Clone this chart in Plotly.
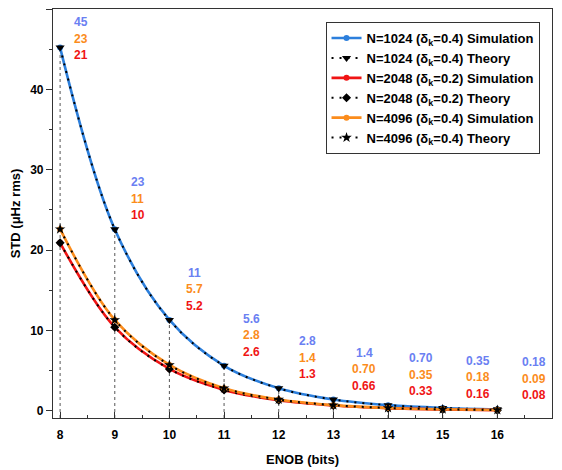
import plotly.graph_objects as go

enob = [8, 9, 10, 11, 12, 13, 14, 15, 16]

std_1024_sim = [45.2, 22.6, 11.3, 5.6, 2.8, 1.4, 0.70, 0.35, 0.18]
std_1024_th = [45.2, 22.6, 11.3, 5.6, 2.8, 1.4, 0.70, 0.35, 0.18]
std_2048_sim = [20.9, 10.4, 5.2, 2.6, 1.3, 0.66, 0.33, 0.16, 0.08]
std_2048_th = [20.9, 10.4, 5.2, 2.6, 1.3, 0.66, 0.33, 0.16, 0.08]
std_4096_sim = [22.6, 11.3, 5.7, 2.8, 1.4, 0.70, 0.35, 0.18, 0.09]
std_4096_th = [22.6, 11.3, 5.7, 2.8, 1.4, 0.70, 0.35, 0.18, 0.09]

labels_1024 = ["45", "23", "11", "5.6", "2.8", "1.4", "0.70", "0.35", "0.18"]
labels_4096 = ["23", "11", "5.7", "2.8", "1.4", "0.70", "0.35", "0.18", "0.09"]
labels_2048 = ["21", "10", "5.2", "2.6", "1.3", "0.66", "0.33", "0.16", "0.08"]

x_ticks = [8, 9, 10, 11, 12, 13, 14, 15, 16]
y_ticks = [0, 10, 20, 30, 40, 50]

BLUE = "#2c7fdc"
RED = "#f01414"
ORANGE = "#fb8c1c"
BLUE_TXT = "#6a80f2"
ORANGE_TXT = "#fb8c1c"
RED_TXT = "#f01414"

Y0, Y1 = -0.9, 50
X0, X1 = 7.87, 17.0
# page body has an 8px margin, so the figure is offset by 8px
M_L, M_R, M_T, M_B = 45, 10, 1, 52
W, H = 554, 462
plot_h = H - M_T - M_B

FONT = "Liberation Sans, Arial, sans-serif"

fig = go.Figure()

# vertical dotted drop lines
dx, dy = [], []
for xv, yv in zip(enob, std_1024_sim):
    dx += [xv, xv, None]
    dy += [Y0, yv, None]
fig.add_trace(go.Scatter(x=dx, y=dy, mode="lines", showlegend=False, hoverinfo="skip",
                         line=dict(color="#666666", width=1.1, dash="dot")))

series = [
    ("N=1024 (δ<sub>k</sub>=0.4) Simulation", std_1024_sim, BLUE, "sim", None),
    ("N=1024 (δ<sub>k</sub>=0.4) Theory", std_1024_th, "black", "th", "triangle-down"),
    ("N=2048 (δ<sub>k</sub>=0.2) Simulation", std_2048_sim, RED, "sim", None),
    ("N=2048 (δ<sub>k</sub>=0.2) Theory", std_2048_th, "black", "th", "diamond"),
    ("N=4096 (δ<sub>k</sub>=0.4) Simulation", std_4096_sim, ORANGE, "sim", None),
    ("N=4096 (δ<sub>k</sub>=0.4) Theory", std_4096_th, "black", "th", "star"),
]
msize = {"triangle-down": 8, "diamond": 7, "star": 8}
for name, ys, col, kind, sym in series:
    if kind == "sim":
        fig.add_trace(go.Scatter(x=enob, y=ys, name=f"<b>{name}</b>", mode="lines+markers",
                                 line=dict(color=col, width=2.6, shape="spline"),
                                 marker=dict(symbol="circle", size=6, color=col)))
    else:
        fig.add_trace(go.Scatter(x=enob, y=ys, name=f"<b>{name}</b>", mode="lines+markers",
                                 line=dict(color="black", width=2, dash="2px,6px", shape="spline"),
                                 marker=dict(symbol=sym, size=msize[sym], color="black")))

# annotations
px_per_unit = plot_h / (Y1 - Y0)
for i, xv in enumerate(enob):
    yb = std_1024_sim[i]
    pt_px = M_T + (Y1 - yb) * px_per_unit
    center = max(pt_px - 47, M_T + 13)
    shift = pt_px - center
    xs = 21 + 2 * i
    for k, (txt, col) in enumerate([(labels_1024[i], BLUE_TXT), (labels_4096[i], ORANGE_TXT),
                                    (labels_2048[i], RED_TXT)]):
        fig.add_annotation(x=xv, y=yb, xref="x", yref="y", text=f"<b>{txt}</b>", showarrow=False,
                           xanchor="center", yanchor="middle", xshift=xs, yshift=shift - 16.5 * k,
                           font=dict(family=FONT, size=12, color=col))

fig.update_layout(
    width=W, height=H,
    margin=dict(l=M_L, r=M_R, t=M_T, b=M_B, autoexpand=False),
    paper_bgcolor="white", plot_bgcolor="white",
    font=dict(family=FONT, size=12, color="black"),
    showlegend=True,
    legend=dict(x=0.975, y=0.968, xanchor="right", yanchor="top",
                bordercolor="#333333", borderwidth=1, bgcolor="white",
                font=dict(family=FONT, size=13, color="black"),
                itemwidth=30, tracegroupgap=0),
)
fig.update_xaxes(range=[X0, X1], tickvals=x_ticks, ticktext=[f"<b>{t}</b>" for t in x_ticks],
                 ticks="inside", ticklen=6, tickwidth=1, tickcolor="#333333", automargin=False,
                 ticklabelstandoff=5,
                 minor=dict(dtick=0.5, tick0=8, ticks="inside", ticklen=3, tickcolor="#333333"),
                 showgrid=False, zeroline=False, showline=True, linecolor="#333333", linewidth=1.2,
                 mirror=True, tickfont=dict(family=FONT, size=12),
                 title=dict(text="<b>ENOB (bits)</b>", font=dict(family=FONT, size=13), standoff=14))
fig.update_yaxes(range=[Y0, Y1], tickvals=y_ticks, ticktext=[f"<b>{t}</b>" for t in y_ticks],
                 ticks="outside", ticklen=6, tickwidth=1, tickcolor="#333333", automargin=False,
                 minor=dict(dtick=5, tick0=0, ticks="outside", ticklen=3, tickcolor="#333333"),
                 showgrid=False, zeroline=False, showline=True, linecolor="#333333", linewidth=1.2,
                 mirror=True, tickfont=dict(family=FONT, size=12),
                 title=dict(text="<b>STD (μHz rms)</b>", font=dict(family=FONT, size=13), standoff=8))

fig.write_html("out.html")
